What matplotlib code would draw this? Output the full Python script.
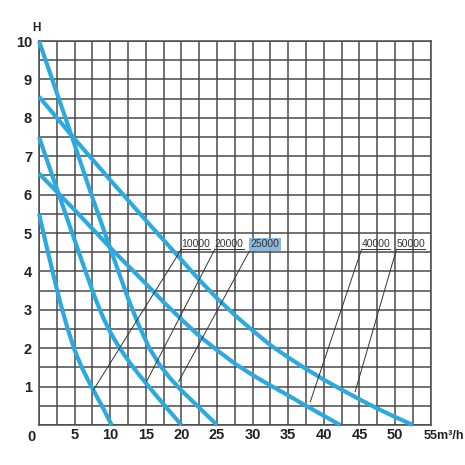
import matplotlib
matplotlib.use('Agg')
import matplotlib.pyplot as plt
import numpy as np

# ---- data ----
q1 = [0, 1, 2, 3, 4, 5, 6, 7, 8, 9, 10.2]
h1 = [5.5, 4.7, 3.92, 3.17, 2.52, 1.95, 1.5, 1.13, 0.78, 0.44, 0]
q2 = [0, 2, 4, 6, 7, 8, 9, 10, 11, 12, 13, 14, 16, 18, 20]
h2 = [7.5, 6.42, 5.35, 4.28, 3.76, 3.25, 2.8, 2.42, 2.1, 1.82, 1.56, 1.32, 0.87, 0.43, 0]
q3 = [0, 2.5, 5, 7.5, 10, 12.5, 14, 15.5, 17, 18.5, 20, 22.5, 25]
h3 = [10, 8.65, 7.3, 5.92, 4.6, 3.3, 2.6, 2.0, 1.55, 1.2, 0.9, 0.45, 0]
q4 = [0, 5, 10, 15, 17.5, 20, 22.5, 25, 27.5, 30, 32.5, 35, 37.5, 40, 42.3]
h4 = [6.55, 5.6, 4.62, 3.68, 3.2, 2.75, 2.32, 1.95, 1.6, 1.3, 1.03, 0.77, 0.5, 0.24, 0]
q5 = [0, 5, 10, 15, 20, 22.5, 25, 27.5, 30, 32.5, 35, 37.5, 40, 42.5, 45, 47.5, 50, 52.5]
h5 = [8.55, 7.45, 6.38, 5.33, 4.3, 3.78, 3.3, 2.86, 2.46, 2.08, 1.76, 1.46, 1.18, 0.92, 0.67, 0.43, 0.21, 0]

curve_q = [q1, q2, q3, q4, q5]
curve_h = [h1, h2, h3, h4, h5]

labels = ['10000', '20000', '25000', '40000', '50000']
label_q = [20.0, 24.7, 29.7, 45.3, 50.2]
label_h = [4.58, 4.58, 4.58, 4.58, 4.58]
leader_q = [7.63, 15.1, 19.6, 38.1, 44.4]
leader_h = [0.91, 1.13, 1.13, 0.61, 0.87]

x_ticks = [5, 10, 15, 20, 25, 30, 35, 40, 45, 50]
x_tick_labels = ['5', '10', '15', '20', '25', '30', '35', '40', '45', '50']
y_ticks = [1, 2, 3, 4, 5, 6, 7, 8, 9, 10]
y_tick_labels = ['1', '2', '3', '4', '5', '6', '7', '8', '9', '10']

# ---- style ----
plt.rcParams['font.family'] = ['Liberation Sans', 'DejaVu Sans']

BLUE = '#2CAAE0'
GRID = '#4a4a4a'
TXT = '#222222'

fig = plt.figure(figsize=(4.65, 4.65), dpi=100)
ax = fig.add_axes([0.0839, 0.086, 0.9262 - 0.0839, 0.9118 - 0.086])
ax.set_xlim(0, 55)
ax.set_ylim(0, 10)

ax.set_xticks(np.arange(0, 55.01, 2.5), minor=True)
ax.set_yticks(np.arange(0, 10.01, 0.5), minor=True)
ax.set_xticks(x_ticks)
ax.set_xticklabels(x_tick_labels)
ax.set_yticks(y_ticks)
ax.set_yticklabels(y_tick_labels)
ax.grid(True, which='both', color=GRID, lw=1.1)
ax.tick_params(which='both', length=0)
ax.tick_params(axis='x', pad=2, labelsize=10.5)
ax.tick_params(axis='y', pad=5, labelsize=10.5)
for lab in ax.get_xticklabels() + ax.get_yticklabels():
    lab.set_fontweight('bold')
    lab.set_color(TXT)
for s in ax.spines.values():
    s.set_color(GRID)
    s.set_linewidth(1.1)
ax.set_axisbelow(True)

for q, h in zip(curve_q, curve_h):
    ax.plot(q, h, color=BLUE, lw=3.0, solid_capstyle='butt', solid_joinstyle='round',
            zorder=3, clip_on=False)

texts = []
for i, (lab, lq, lh) in enumerate(zip(labels, label_q, label_h)):
    kw = {}
    if lab == '25000':
        kw['bbox'] = dict(facecolor='#8db7da', edgecolor='none', pad=1.2)
    t = ax.text(lq, lh + 0.05, lab, fontsize=7.5, ha='left', va='baseline',
                color='#333333', zorder=5, **kw)
    texts.append(t)
    ax.plot([lq, leader_q[i]], [lh, leader_h[i]], color='#333333', lw=0.7, zorder=4)

fig.canvas.draw()
inv = ax.transData.inverted()
for t, lq, lh in zip(texts, label_q, label_h):
    bb = t.get_window_extent()
    x1 = inv.transform((bb.x1, 0))[0]
    ax.plot([lq, x1], [lh, lh], color='#333333', lw=0.7, zorder=4)

ax.text(-1.0, -0.12, '0', fontsize=10.5, fontweight='bold', ha='center', va='top',
        color=TXT, clip_on=False)
ax.text(54.0, -0.12, '55m³/h', fontsize=9, fontweight='bold', ha='left', va='top',
        color=TXT, clip_on=False)
ax.text(-0.3, 10.34, 'H', fontsize=8.5, fontweight='bold', ha='center', va='center',
        color=TXT, clip_on=False)

fig.savefig('out.png', dpi=100)
